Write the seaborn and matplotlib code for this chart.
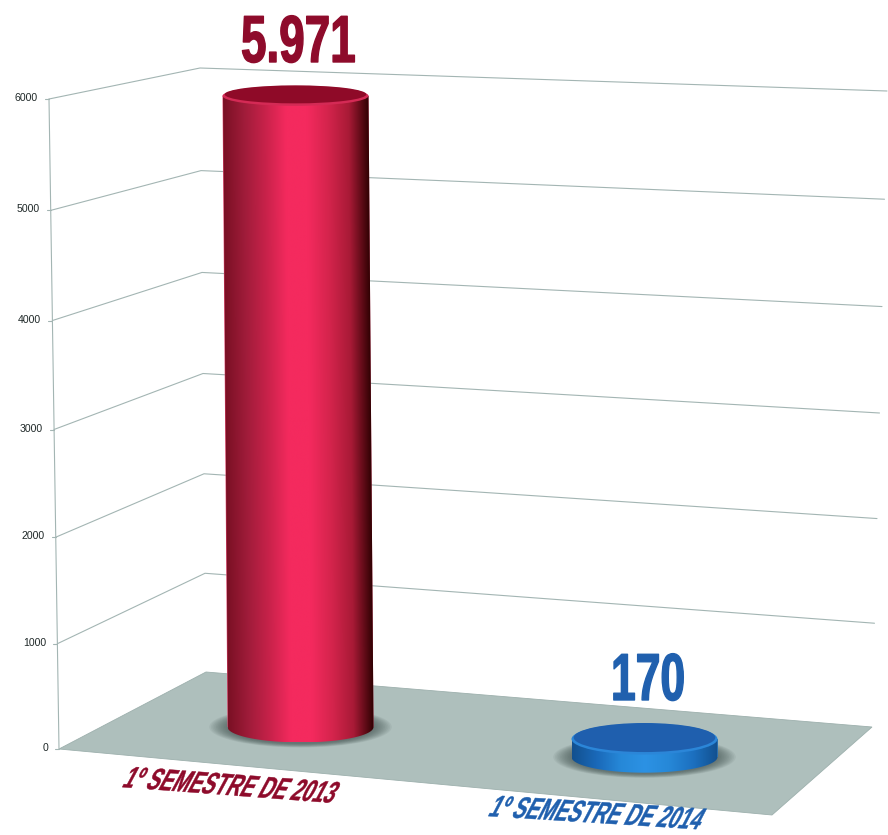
#!/usr/bin/env python3
"""Fake 3D cylinder chart: 1o semestre 2013 vs 2014."""

import numpy as np
import pandas as pd
import matplotlib
matplotlib.use('Agg')
import matplotlib.pyplot as plt
import matplotlib.patheffects as pe
from matplotlib.colors import LinearSegmentedColormap
from matplotlib.patches import Ellipse, Polygon
from matplotlib.path import Path
from matplotlib.transforms import Affine2D
import seaborn as sns

categories = ['1º SEMESTRE DE 2013', '1º SEMESTRE DE 2014']
values = [5971, 170]
value_labels = ['5.971', '170']
ticks = [0, 1000, 2000, 3000, 4000, 5000, 6000]

RED_TEXT = '#8e0b2b'
BLUE_TEXT = '#2060ae'
RED_RAMP = ['#7a1024', '#a01c3a', '#c8224a', '#f42a5e', '#f42a5e', '#d4244c', '#a81a36', '#2a0000']
BLUE_RAMP = ['#12508f', '#1a68b8', '#2688d8', '#2c92e4', '#2688d8', '#1c70c0', '#12508f']

W, H = 888, 835
PX_X = 344.0      # pixels per category
PX_Y = 0.1057     # pixels per unit of value
BASE_PX = 727.0   # pixel row of value 0 under the first bar
CENTER_PX = 300.5


class Stretched(pe.AbstractPathEffect):
    """Stretch and slant the glyphs, there is no condensed font to use."""

    def __init__(self, sy, slant=0, stroke=0):
        self.sy = sy
        self.slant = slant
        self.stroke = stroke

    def draw_path(self, renderer, gc, tpath, affine, rgbFace=None):
        local = Affine2D().scale(1, self.sy).skew_deg(self.slant, 0) + affine
        gc0 = renderer.new_gc()
        gc0.copy_properties(gc)
        gc0.set_foreground(rgbFace)
        gc0.set_linewidth(self.stroke)
        renderer.draw_path(gc0, tpath, local, rgbFace)
        gc0.restore()


def half_height(row):
    """Ellipse half height grows as the row goes down the picture."""
    return 10 + (row - 96) * 5.5 / 640


def wall_points(v):
    """Pixel points of one gridline: front, back corner, right end."""
    t = v / 6000
    bow = t * (1 - t)
    front = (59 - 10 * t, 749 - 650 * t + 22 * bow)
    back = (206 - 6 * t, 672 - 604 * t + 14 * bow)
    right = (872 + 15 * t, 727 - 636 * t + 16 * bow)
    return front, back, right


sns.set_theme(style='white')
plt.rcParams['font.family'] = ['Liberation Sans', 'DejaVu Sans']

fig = plt.figure(figsize=(W / 100, H / 100), dpi=100)

# walls and floor, in pixel coordinates
wall = fig.add_axes([0, 0, 1, 1])
wall.set_xlim(0, W)
wall.set_ylim(H, 0)
wall.axis('off')

floor_right = wall_points(0)[2]
wall.add_patch(Polygon([wall_points(0)[1], floor_right, (772, 815), wall_points(0)[0]],
                       closed=True, facecolor='#aebfbc', edgecolor='#9db0ad', linewidth=0.6))
grid_color = '#a3b5b3'
for v in ticks:
    front, back, right = wall_points(v)
    if v > 0:
        wall.plot([front[0], back[0], right[0]], [front[1], back[1], right[1]],
                  color=grid_color, linewidth=0.8)
    wall.plot([front[0] - 4, front[0]], [front[1], front[1]], color=grid_color, linewidth=0.8)
    wall.text(front[0] - 11, front[1] - 1, str(v), ha='right', va='center',
              fontsize=7.6, color='#1f2828')
top_front = wall_points(6000)[0]
low_front = wall_points(0)[0]
wall.plot([top_front[0], low_front[0]], [top_front[1], low_front[1]], color=grid_color, linewidth=0.8)

# bars
ax = fig.add_axes([0, 0, 1, 1])
ax.patch.set_visible(False)
df = pd.DataFrame({'periodo': categories, 'valor': values})
sns.barplot(data=df, x='periodo', y='valor', hue='periodo', palette=[RED_RAMP[3], BLUE_RAMP[3]],
            width=146 / PX_X, dodge=False, legend=False, ax=ax)
ax.set_xlim(-CENTER_PX / PX_X, (W - CENTER_PX) / PX_X)
ax.set_ylim(-(H - BASE_PX) / PX_Y, BASE_PX / PX_Y)
ax.axis('off')

ramps = [RED_RAMP, BLUE_RAMP]
floor_drop = [0.0, 30.0]            # the floor runs downhill to the right
lean = [-5.0 / (5971 * PX_X), 0.0]  # category units per unit of value
top_colors = ['#8f0a28', '#1f5fae']
rim_colors = ['#d42a55', '#2b86d8']

for i, patch in enumerate(ax.patches):
    x0, bw, height = patch.get_x(), patch.get_width(), patch.get_height()
    base = -floor_drop[i] / PX_Y
    patch.set_y(base)
    patch.set_zorder(2)
    patch.set_linewidth(0)
    k = lean[i]
    shear = Affine2D.from_values(1, 0, k, 1, -k * base, 0) + ax.transData
    patch.set_transform(shear)

    base_row = BASE_PX + floor_drop[i]
    top_row = base_row - height * PX_Y
    hb = half_height(base_row) / PX_Y
    ht = half_height(top_row) / PX_Y
    xc = x0 + bw / 2

    # soft shadow on the floor
    for s in np.linspace(1.25, 1.0, 12):
        ax.add_patch(Ellipse((xc, base), bw * s, 2 * hb * (s + 0.08), facecolor='#3d4b4b',
                             alpha=0.075, linewidth=0, zorder=1))

    # round body: side gradient clipped to the bar and its lower half ellipse
    theta = np.linspace(np.pi, 2 * np.pi, 60)
    lower = np.column_stack([xc + bw / 2 * np.cos(theta), base + hb * np.sin(theta)])
    outline = np.vstack([[[x0, base + height]], lower, [[x0 + bw, base + height]], [[x0, base + height]]])
    cmap = LinearSegmentedColormap.from_list(f'ramp{i}', ramps[i])
    im = ax.imshow(np.linspace(0, 1, 256)[None, :], cmap=cmap, aspect='auto', zorder=3,
                   extent=(x0, x0 + bw, base - hb, base + height), transform=shear)
    im.set_clip_path(Path(outline), shear)

    # lid with a lighter bevel at the rim
    xt = xc + k * height
    ytop = base + height
    ax.add_patch(Ellipse((xt, ytop), bw, 2 * ht, facecolor=rim_colors[i], linewidth=0, zorder=4))
    ax.add_patch(Ellipse((xt, ytop + 1.5 / PX_Y), bw * 0.97, 2 * ht - 2 / PX_Y,
                         facecolor=top_colors[i], linewidth=0, zorder=5))

ax.set_xlim(-CENTER_PX / PX_X, (W - CENTER_PX) / PX_X)
ax.set_ylim(-(H - BASE_PX) / PX_Y, BASE_PX / PX_Y)

# big value labels and slanted category labels
value_spots = [(241, 62, RED_TEXT), (611, 700, BLUE_TEXT)]
value_sizes = [33, 32]
for label, size, (x, y, color) in zip(value_labels, value_sizes, value_spots):
    t = wall.text(x, y, label, ha='left', va='baseline', fontsize=size, fontweight='bold',
                  color=color, zorder=10)
    t.set_path_effects([Stretched(1.45 * 33 / size, stroke=1.0)])

cat_spots = [(121, 787, RED_TEXT, -4.3), (487, 816, BLUE_TEXT, -3.6)]
for label, (x, y, color, angle) in zip(categories, cat_spots):
    t = wall.text(x, y, label, ha='left', va='baseline', fontsize=14, fontweight='bold',
                  color=color, rotation=angle, rotation_mode='anchor', zorder=10)
    t.set_path_effects([Stretched(1.57, slant=24, stroke=0.3)])

wall.set_zorder(0)
ax.set_zorder(1)

fig.savefig('out.png', dpi=100)
plt.close(fig)
